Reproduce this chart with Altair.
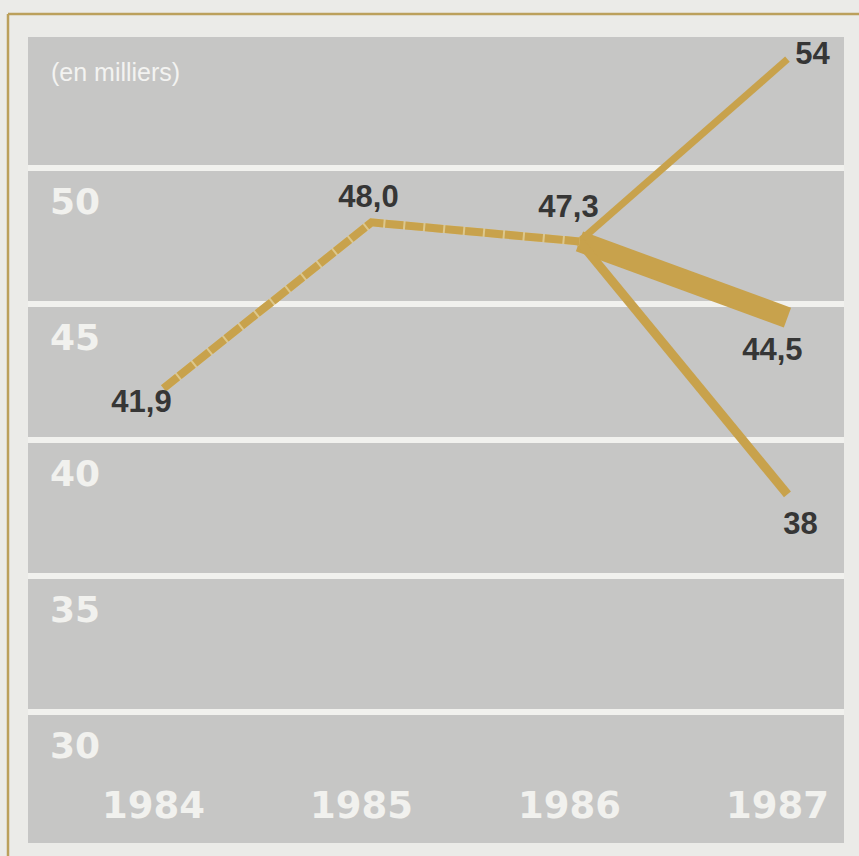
import altair as alt
import pandas as pd

# ---- data -------------------------------------------------------------
history_years = [1984, 1985, 1986]
history_values = [41.9, 48.0, 47.3]
history_labels = ["41,9", "48,0", "47,3"]

start_year = 1986
start_value = 47.3
end_year = 1987
scenario_names = ["haute", "moyenne", "basse"]
scenario_values = [54, 44.5, 38]
scenario_labels = ["54", "44,5", "38"]

year_ticks = [1984, 1985, 1986, 1987]
value_ticks = [50, 45, 40, 35, 30]
value_tick_labels = ["50", "45", "40", "35", "30"]
unit_note = "(en milliers)"

# ---- styles -----------------------------------------------------------
BG = "#ebebe8"
PANEL = "#c6c6c5"
GRID = "#f1f1ee"
GOLD = "#c8a24c"
GOLD_LIGHT = "#dcc78c"
FRAME = "#bba05c"
LABEL = "#363636"

W, H = 859, 856
xs = alt.Scale(domain=[1983.214, 1987.344], nice=False, zero=False)
ys = alt.Scale(domain=[24.706, 56.176], nice=False, zero=False)

one = pd.DataFrame({"k": [0]})

panel = alt.Chart(one).mark_rect(color=PANEL).encode(
    x=alt.value(28), x2=alt.value(844), y=alt.value(37), y2=alt.value(843)
)

ticks_df = pd.DataFrame({"v": value_ticks, "t": value_tick_labels})
grid = alt.Chart(ticks_df).mark_rule(color=GRID, strokeWidth=6).encode(
    y=alt.Y("v:Q", scale=ys, axis=None), x=alt.value(28), x2=alt.value(844)
)
ylabels = alt.Chart(ticks_df).mark_text(
    font="DejaVu Sans", fontWeight="bold", fontSize=36, color=GRID,
    align="left", baseline="middle", dy=35
).encode(y=alt.Y("v:Q", scale=ys, axis=None), x=alt.value(50), text="t:N")

years_df = pd.DataFrame({"year": year_ticks, "t": [str(y) for y in year_ticks]})
xlabels = alt.Chart(years_df).mark_text(
    font="DejaVu Sans", fontWeight="bold", fontSize=37, color=GRID,
    align="center", baseline="middle", dx=-10
).encode(x=alt.X("year:Q", scale=xs, axis=None), y=alt.value(807), text="t:N")

note = alt.Chart(pd.DataFrame({"t": [unit_note]})).mark_text(
    font="Liberation Sans", fontSize=25, color="#f3f3f1",
    align="left", baseline="middle"
).encode(x=alt.value(51), y=alt.value(73), text="t:N")

frame_h = alt.Chart(one).mark_rule(color=FRAME, strokeWidth=2.5).encode(
    x=alt.value(8), x2=alt.value(W), y=alt.value(14)
)
frame_v = alt.Chart(one).mark_rule(color=FRAME, strokeWidth=2.5).encode(
    x=alt.value(8), y=alt.value(14), y2=alt.value(H)
)

hist_df = pd.DataFrame({"year": history_years, "v": history_values})
hist_under = alt.Chart(hist_df).mark_line(color=GOLD_LIGHT, strokeWidth=8).encode(
    x=alt.X("year:Q", scale=xs, axis=None), y=alt.Y("v:Q", scale=ys, axis=None)
)
hist_dash = alt.Chart(hist_df).mark_line(
    color=GOLD, strokeWidth=8, strokeDash=[18, 2]
).encode(
    x=alt.X("year:Q", scale=xs, axis=None), y=alt.Y("v:Q", scale=ys, axis=None)
)

scen_rows = []
for name, val in zip(scenario_names, scenario_values):
    scen_rows.append({"s": name, "year": start_year, "v": start_value})
    scen_rows.append({"s": name, "year": end_year, "v": val})
scen_df = pd.DataFrame(scen_rows)

scen_widths = {"haute": 7, "moyenne": 21, "basse": 9}
scen_layers = []
for name in scenario_names:
    scen_layers.append(
        alt.Chart(scen_df).transform_filter(alt.datum.s == name)
        .mark_line(color=GOLD, strokeWidth=scen_widths[name], strokeCap="butt")
        .encode(
            x=alt.X("year:Q", scale=xs, axis=None),
            y=alt.Y("v:Q", scale=ys, axis=None),
        )
    )

lab_df = pd.DataFrame({
    "year": history_years + [end_year] * 3,
    "v": history_values + scenario_values,
    "t": history_labels + scenario_labels,
})
offsets = [(-22, 15), (-3, -24), (-11, -33), (25, -4), (-15, 33), (13, 31)]
lab_layers = []
for i, (dx, dy) in enumerate(offsets):
    lab_layers.append(
        alt.Chart(lab_df.iloc[[i]]).mark_text(
            font="Liberation Sans", fontWeight="bold", fontSize=31, color=LABEL,
            align="center", baseline="middle", dx=dx, dy=dy
        ).encode(
            x=alt.X("year:Q", scale=xs, axis=None),
            y=alt.Y("v:Q", scale=ys, axis=None),
            text="t:N",
        )
    )

chart = alt.layer(
    panel, grid, ylabels, xlabels, note, frame_h, frame_v,
    scen_layers[1], scen_layers[0], scen_layers[2],
    hist_under, hist_dash, *lab_layers
).properties(
    width=W, height=H, padding=0,
    autosize=alt.AutoSizeParams(type="none"),
    background=BG,
).configure_view(stroke=None)

chart.save("out.html", embed_options={"renderer": "svg", "actions": False})
